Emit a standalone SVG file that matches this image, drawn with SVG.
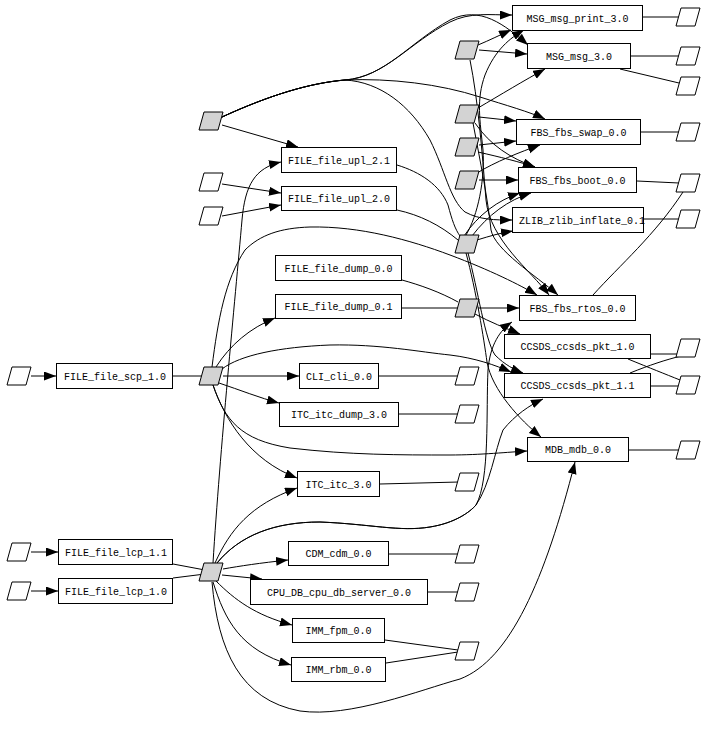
<svg xmlns="http://www.w3.org/2000/svg" xmlns:xlink="http://www.w3.org/1999/xlink" width="706" height="740" viewBox="0 0 706 740">
<style>
.box rect{fill:#fff;stroke:#000;stroke-width:1}
.box text{font-family:"Liberation Mono","DejaVu Sans Mono",monospace;font-size:10px;text-anchor:middle;fill:#000}
.hub use{fill:#d3d3d3;stroke:#000;stroke-width:1}
.port use{fill:#fff;stroke:#000;stroke-width:1}
#edges path{fill:none;stroke:#000;stroke-width:1}
#edges path.a{marker-end:url(#arr)}
</style>
<defs>
<marker id="arr" markerWidth="13" markerHeight="10" refX="12" refY="4.5" orient="auto" markerUnits="userSpaceOnUse"><path d="M0,0 L12,4.5 L0,9 z" fill="#000"/></marker>
<polygon id="pg" points="-7,-9 12,-9 7,9 -12,9"/>
</defs>
<rect width="706" height="740" fill="#fff"/>
<g id="edges">
<path class="a" d="M31,376 L56,376"/>
<path class="a" d="M31,552 L58,552"/>
<path class="a" d="M31,591 L58,591"/>
<path d="M173,376 L204,376"/>
<path d="M173,564 L205,570"/>
<path d="M173,578 L205,574"/>
<path class="a" d="M222,184 L281,193"/>
<path class="a" d="M222,216 L281,205"/>
<path class="a" d="M222,125 L298,147"/>
<path class="a" d="M222,117 C270,95 310,83 345,80 C385,77 410,42 450,22 C470,12 490,15 512,15"/>
<path class="a" d="M222,117 C270,95 310,83 345,80 C385,77 410,42 450,20 C480,5 505,25 528,45"/>
<path class="a" d="M222,117 C270,95 310,83 345,80 C390,78 440,84 480,97 C505,105 530,112 545,119"/>
<path class="a" d="M222,117 C270,95 310,83 345,80 C380,82 410,105 430,140 C445,170 450,200 465,212 C480,220 495,220 512,220"/>
<path d="M397,165 C420,172 440,185 448,205 C452,220 455,229 460,236"/>
<path d="M397,210 C420,215 440,225 458,240"/>
<path class="a" d="M477,240 C490,236 500,233 513,231"/>
<path class="a" d="M464,236 C478,215 498,200 520,193"/>
<path class="a" d="M472,236 C488,215 508,200 531,193"/>
<path class="a" d="M466,235 C478,215 485,180 483,150 C480,120 476,100 485,75 C495,50 510,38 524,30"/>
<path class="a" d="M468,253 C478,290 485,340 495,355 C505,365 515,370 523,373"/>
<path class="a" d="M466,253 C476,290 484,340 487,362 C492,390 520,420 541,437"/>
<path class="a" d="M478,45 C490,40 500,35 511,30"/>
<path class="a" d="M479,50 L527,54"/>
<path class="a" d="M470,60 C478,100 482,150 486,200 C490,240 530,270 549,295"/>
<path class="a" d="M478,108 C500,95 525,80 545,69"/>
<path class="a" d="M479,117 L516,121"/>
<path class="a" d="M479,145 L516,141"/>
<path class="a" d="M475,123 C490,145 510,158 535,167"/>
<path class="a" d="M478,152 C500,157 520,162 535,167"/>
<path class="a" d="M477,173 C495,162 520,152 540,145"/>
<path class="a" d="M479,180 L518,180"/>
<path class="a" d="M473,123 C480,160 488,200 491,230 C495,250 535,275 558,295"/>
<path d="M402,280 C420,285 440,292 458,302"/>
<path d="M402,308 L458,308"/>
<path class="a" d="M478,308 L519,308"/>
<path class="a" d="M475,314 C490,322 505,328 520,334"/>
<path class="a" d="M216,367 C230,345 250,328 275,318"/>
<path class="a" d="M223,376 L299,376"/>
<path class="a" d="M219,383 C240,390 260,398 279,403"/>
<path class="a" d="M213,385 C225,420 250,460 297,478"/>
<path class="a" d="M222,369 C240,355 280,347 330,345 C380,344 420,352 450,355 C475,358 495,365 511,372"/>
<path class="a" d="M213,385 C225,420 240,440 290,448 C350,455 400,455 450,455 C480,455 510,452 527,451"/>
<path class="a" d="M212,367 C218,320 225,280 245,250 C260,235 280,228 310,227 C360,226 410,240 450,255 C490,270 520,285 537,295"/>
<path class="a" d="M213,563 C220,450 235,300 242,220 C245,185 255,168 281,162"/>
<path class="a" d="M215,563 C230,530 250,505 297,488"/>
<path class="a" d="M223,569 C240,566 260,563 288,560"/>
<path class="a" d="M222,575 L262,579"/>
<path class="a" d="M216,581 C235,600 255,615 292,625"/>
<path class="a" d="M213,582 C225,620 240,650 291,665"/>
<path class="a" d="M212,582 C218,650 240,700 300,711 C350,718 420,690 460,679 C510,660 545,580 575,462"/>
<path class="a" d="M217,563 C240,535 275,522 320,522 C370,524 400,532 430,527 C455,523 470,512 476,505 C490,480 486,410 488,370 C490,345 500,330 512,322"/>
<path class="a" d="M217,563 C240,535 275,522 320,522 C370,524 400,532 430,527 C455,523 470,512 476,505 C490,485 495,450 503,430 C515,415 530,405 543,399"/>
<path d="M643,17 L679,17"/>
<path d="M631,56 L680,56"/>
<path d="M620,69 L679,83"/>
<path d="M641,132 L679,132"/>
<path d="M637,181 L679,183"/>
<path d="M644,219 L680,219"/>
<path d="M593,295 C620,265 655,235 683,192"/>
<path d="M651,354 L681,354"/>
<path d="M628,359 C650,368 665,374 680,380"/>
<path d="M630,373 C650,365 665,360 681,356"/>
<path d="M651,386 L680,386"/>
<path d="M629,450 L680,450"/>
<path d="M379,376 L459,376"/>
<path d="M399,414 L459,414"/>
<path d="M380,484 L459,482"/>
<path d="M389,554 L459,554"/>
<path d="M428,592 L459,592"/>
<path d="M385,640 L458,650"/>
<path d="M386,663 L458,652"/>
</g>
<g id="hubs" class="hub">
<g id="g1"><use xlink:href="#pg" x="211" y="121"/></g>
<g id="g_scp"><use xlink:href="#pg" x="211" y="376"/></g>
<g id="g_lcp"><use xlink:href="#pg" x="211" y="572"/></g>
<g id="g2"><use xlink:href="#pg" x="467" y="50"/></g>
<g id="g3"><use xlink:href="#pg" x="467" y="114"/></g>
<g id="g4"><use xlink:href="#pg" x="467" y="147"/></g>
<g id="g5"><use xlink:href="#pg" x="467" y="180"/></g>
<g id="g6"><use xlink:href="#pg" x="467" y="244"/></g>
<g id="g7"><use xlink:href="#pg" x="467" y="308"/></g>
</g>
<g id="ports" class="port">
<g id="l1"><use xlink:href="#pg" x="19" y="376"/></g>
<g id="l2"><use xlink:href="#pg" x="19" y="552"/></g>
<g id="l3"><use xlink:href="#pg" x="19" y="591"/></g>
<g id="u1"><use xlink:href="#pg" x="211" y="182"/></g>
<g id="u2"><use xlink:href="#pg" x="211" y="216"/></g>
<g id="w1"><use xlink:href="#pg" x="467" y="376"/></g>
<g id="w2"><use xlink:href="#pg" x="467" y="414"/></g>
<g id="w3"><use xlink:href="#pg" x="467" y="482"/></g>
<g id="w4"><use xlink:href="#pg" x="467" y="554"/></g>
<g id="w5"><use xlink:href="#pg" x="467" y="592"/></g>
<g id="w6"><use xlink:href="#pg" x="467" y="651"/></g>
<g id="r1"><use xlink:href="#pg" x="688" y="17"/></g>
<g id="r2"><use xlink:href="#pg" x="688" y="56"/></g>
<g id="r3"><use xlink:href="#pg" x="688" y="86"/></g>
<g id="r4"><use xlink:href="#pg" x="688" y="132"/></g>
<g id="r5"><use xlink:href="#pg" x="688" y="183"/></g>
<g id="r6"><use xlink:href="#pg" x="688" y="219"/></g>
<g id="r7"><use xlink:href="#pg" x="688" y="348"/></g>
<g id="r8"><use xlink:href="#pg" x="688" y="385"/></g>
<g id="r9"><use xlink:href="#pg" x="688" y="450"/></g>
</g>
<g id="n_msg_print" class="box"><rect x="512.5" y="5.5" width="130" height="25"/><text x="577.5" y="21.5">MSG_msg_print_3.0</text></g>
<g id="n_msg" class="box"><rect x="527.5" y="43.5" width="103" height="25"/><text x="579" y="59.5">MSG_msg_3.0</text></g>
<g id="n_fbs_swap" class="box"><rect x="516.5" y="119.5" width="124" height="25"/><text x="578.5" y="135.5">FBS_fbs_swap_0.0</text></g>
<g id="n_fbs_boot" class="box"><rect x="518.5" y="167.5" width="118" height="25"/><text x="577.5" y="183.5">FBS_fbs_boot_0.0</text></g>
<g id="n_zlib" class="box"><rect x="512.5" y="207.5" width="131" height="25"/><text x="582" y="223.5">ZLIB_zlib_inflate_0.1</text></g>
<g id="n_upl21" class="box"><rect x="281.5" y="147.5" width="115" height="25"/><text x="339" y="163.5">FILE_file_upl_2.1</text></g>
<g id="n_upl20" class="box"><rect x="281.5" y="186.5" width="115" height="24"/><text x="339" y="202">FILE_file_upl_2.0</text></g>
<g id="n_dump00" class="box"><rect x="275.5" y="255.5" width="126" height="25"/><text x="338.5" y="271.5">FILE_file_dump_0.0</text></g>
<g id="n_dump01" class="box"><rect x="275.5" y="294.5" width="126" height="24"/><text x="338.5" y="310">FILE_file_dump_0.1</text></g>
<g id="n_cli" class="box"><rect x="299.5" y="363.5" width="79" height="25"/><text x="339" y="379.5">CLI_cli_0.0</text></g>
<g id="n_itc_dump" class="box"><rect x="279.5" y="402.5" width="119" height="24"/><text x="339" y="418">ITC_itc_dump_3.0</text></g>
<g id="n_fbs_rtos" class="box"><rect x="519.5" y="295.5" width="116" height="25"/><text x="577.5" y="311.5">FBS_fbs_rtos_0.0</text></g>
<g id="n_ccsds10" class="box"><rect x="504.5" y="334.5" width="146" height="24"/><text x="577.5" y="350">CCSDS_ccsds_pkt_1.0</text></g>
<g id="n_ccsds11" class="box"><rect x="504.5" y="373.5" width="146" height="24"/><text x="577.5" y="389">CCSDS_ccsds_pkt_1.1</text></g>
<g id="n_mdb" class="box"><rect x="527.5" y="437.5" width="101" height="24"/><text x="578" y="453">MDB_mdb_0.0</text></g>
<g id="n_scp" class="box"><rect x="56.5" y="363.5" width="116" height="25"/><text x="115" y="379.5">FILE_file_scp_1.0</text></g>
<g id="n_lcp11" class="box"><rect x="58.5" y="539.5" width="114" height="25"/><text x="116" y="555.5">FILE_file_lcp_1.1</text></g>
<g id="n_lcp10" class="box"><rect x="58.5" y="578.5" width="114" height="25"/><text x="116" y="594.5">FILE_file_lcp_1.0</text></g>
<g id="n_itc" class="box"><rect x="297.5" y="471.5" width="82" height="25"/><text x="338.5" y="487.5">ITC_itc_3.0</text></g>
<g id="n_cdm" class="box"><rect x="288.5" y="541.5" width="100" height="24"/><text x="338.5" y="557">CDM_cdm_0.0</text></g>
<g id="n_cpudb" class="box"><rect x="250.5" y="579.5" width="177" height="25"/><text x="339" y="595.5">CPU_DB_cpu_db_server_0.0</text></g>
<g id="n_fpm" class="box"><rect x="292.5" y="618.5" width="92" height="24"/><text x="338.5" y="634">IMM_fpm_0.0</text></g>
<g id="n_rbm" class="box"><rect x="291.5" y="657.5" width="94" height="24"/><text x="338.5" y="673">IMM_rbm_0.0</text></g>
</svg>
